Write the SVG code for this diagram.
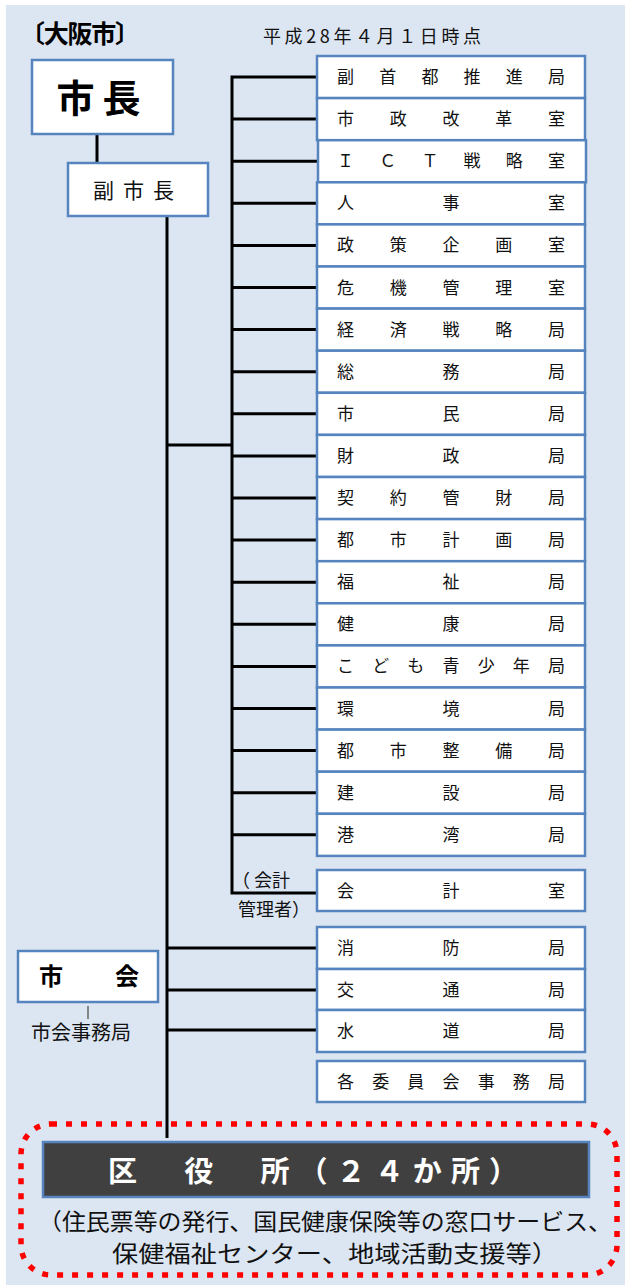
<svg xmlns="http://www.w3.org/2000/svg" width="625" height="1285" viewBox="0 0 625 1285">
<style>
.bx{fill:#fff;stroke:#5584BE;stroke-width:2.5}
.t{font-family:"Noto Sans CJK JP","Noto Sans",sans-serif;font-size:17px;fill:#111}
.ln{stroke:#000;stroke-width:3;fill:none}
</style>
<rect x="6" y="5" width="619" height="1280" fill="#DCE6F2"/>
<text x="20" y="43" font-family="'Noto Sans CJK JP',sans-serif" font-size="25" font-weight="bold" fill="#000" textLength="120" lengthAdjust="spacing">〔大阪市〕</text>
<text x="263" y="43" class="t" style="font-size:18px" textLength="218" lengthAdjust="spacing">平成28年４月１日時点</text>
<g id="connectors">
<path class="ln" d="M97 134V163"/>
<path class="ln" d="M167 216V1138"/>
<path class="ln" d="M167 445H232"/>
<path class="ln" d="M317 77H232V893H317"/>
<path class="ln" d="M232 119.1H317M232 161.2H317M232 203.3H317M232 245.4H317M232 287.5H317M232 329.6H317M232 371.7H317M232 413.8H317M232 455.9H317M232 498H317M232 540.1H317M232 582.2H317M232 624.3H317M232 666.4H317M232 708.5H317M232 750.6H317M232 792.7H317M232 834.8H317"/>
<path class="ln" d="M167 948H317M167 990H317M167 1030H317"/>
<path d="M88 1006V1019" stroke="#666" stroke-width="1.5"/>
</g>
<g id="mayor"><rect class="bx" x="32" y="60" width="141" height="74"/><text x="102.5" y="112" text-anchor="middle" font-family="'Noto Sans CJK JP',sans-serif" font-size="38" font-weight="bold" letter-spacing="8">市長</text></g>
<g id="vice-mayor"><rect class="bx" x="68" y="163" width="140" height="53"/><text x="138" y="198" text-anchor="middle" class="t" style="font-size:21px" letter-spacing="9">副市長</text></g>
<g id="b1"><rect class="bx" x="317" y="56" width="268" height="42.1"/><text class="t" x="337" y="83" textLength="228" lengthAdjust="spacing">副首都推進局</text></g>
<g id="b2"><rect class="bx" x="317" y="98.1" width="268" height="42.1"/><text class="t" x="337" y="125.1" textLength="228" lengthAdjust="spacing">市政改革室</text></g>
<g id="b3"><rect class="bx" x="318" y="140.2" width="268" height="42.1"/><text class="t" x="337" y="167.2" textLength="228" lengthAdjust="spacing">ＩＣＴ戦略室</text></g>
<g id="b4"><rect class="bx" x="317" y="182.3" width="268" height="42.1"/><text class="t" x="337" y="209.3" textLength="228" lengthAdjust="spacing">人事室</text></g>
<g id="b5"><rect class="bx" x="317" y="224.4" width="268" height="42.1"/><text class="t" x="337" y="251.4" textLength="228" lengthAdjust="spacing">政策企画室</text></g>
<g id="b6"><rect class="bx" x="317" y="266.5" width="268" height="42.1"/><text class="t" x="337" y="293.5" textLength="228" lengthAdjust="spacing">危機管理室</text></g>
<g id="b7"><rect class="bx" x="317" y="308.6" width="268" height="42.1"/><text class="t" x="337" y="335.6" textLength="228" lengthAdjust="spacing">経済戦略局</text></g>
<g id="b8"><rect class="bx" x="317" y="350.7" width="268" height="42.1"/><text class="t" x="337" y="377.7" textLength="228" lengthAdjust="spacing">総務局</text></g>
<g id="b9"><rect class="bx" x="317" y="392.8" width="268" height="42.1"/><text class="t" x="337" y="419.8" textLength="228" lengthAdjust="spacing">市民局</text></g>
<g id="b10"><rect class="bx" x="317" y="434.9" width="268" height="42.1"/><text class="t" x="337" y="461.9" textLength="228" lengthAdjust="spacing">財政局</text></g>
<g id="b11"><rect class="bx" x="317" y="477" width="268" height="42.1"/><text class="t" x="337" y="504" textLength="228" lengthAdjust="spacing">契約管財局</text></g>
<g id="b12"><rect class="bx" x="317" y="519.1" width="268" height="42.1"/><text class="t" x="337" y="546.1" textLength="228" lengthAdjust="spacing">都市計画局</text></g>
<g id="b13"><rect class="bx" x="317" y="561.2" width="268" height="42.1"/><text class="t" x="337" y="588.2" textLength="228" lengthAdjust="spacing">福祉局</text></g>
<g id="b14"><rect class="bx" x="317" y="603.3" width="268" height="42.1"/><text class="t" x="337" y="630.3" textLength="228" lengthAdjust="spacing">健康局</text></g>
<g id="b15"><rect class="bx" x="317" y="645.4" width="268" height="42.1"/><text class="t" x="337" y="672.4" textLength="228" lengthAdjust="spacing">こども青少年局</text></g>
<g id="b16"><rect class="bx" x="317" y="687.5" width="268" height="42.1"/><text class="t" x="337" y="714.5" textLength="228" lengthAdjust="spacing">環境局</text></g>
<g id="b17"><rect class="bx" x="317" y="729.6" width="268" height="42.1"/><text class="t" x="337" y="756.6" textLength="228" lengthAdjust="spacing">都市整備局</text></g>
<g id="b18"><rect class="bx" x="317" y="771.7" width="268" height="42.1"/><text class="t" x="337" y="798.7" textLength="228" lengthAdjust="spacing">建設局</text></g>
<g id="b19"><rect class="bx" x="317" y="813.8" width="268" height="42.1"/><text class="t" x="337" y="840.8" textLength="228" lengthAdjust="spacing">港湾局</text></g>
<g id="accounting"><rect class="bx" x="317" y="870" width="268" height="41"/><text class="t" x="337" y="897" textLength="228" lengthAdjust="spacing">会計室</text></g>
<g id="accounting-label"><text class="t" x="232" y="887" style="font-size:18px">（ 会計</text><text class="t" x="238" y="916" style="font-size:18px">管理者）</text></g>
<g id="fire"><rect class="bx" x="317" y="927" width="268" height="42"/><text class="t" x="337" y="954" textLength="228" lengthAdjust="spacing">消防局</text></g>
<g id="transport"><rect class="bx" x="317" y="969" width="268" height="41"/><text class="t" x="337" y="996" textLength="228" lengthAdjust="spacing">交通局</text></g>
<g id="water"><rect class="bx" x="317" y="1010" width="268" height="42"/><text class="t" x="337" y="1037" textLength="228" lengthAdjust="spacing">水道局</text></g>
<g id="committees"><rect class="bx" x="317" y="1061" width="268" height="41"/><text class="t" x="337" y="1088" textLength="228" lengthAdjust="spacing">各委員会事務局</text></g>
<g id="council"><rect class="bx" x="18" y="951" width="140" height="51"/><text x="39" y="985" font-family="'Noto Sans CJK JP',sans-serif" font-size="24" font-weight="bold" textLength="100" lengthAdjust="spacing">市会</text><text class="t" x="31" y="1040" style="font-size:20px">市会事務局</text></g>
<g id="wards">
<rect x="21" y="1124" width="596" height="151" rx="30" fill="none" stroke="#FF0000" stroke-width="5.5" stroke-dasharray="6 9"/>
<rect x="43" y="1142" width="546" height="55" fill="#404040" stroke="#5584BE" stroke-width="2.5"/>
<text x="108" y="1182" font-family="'Noto Sans CJK JP',sans-serif" font-size="29" font-weight="bold" fill="#fff" textLength="410" lengthAdjust="spacing">区　役　所（２４か所）</text>
<text x="38" y="1230" class="t" style="font-size:23px" textLength="574" lengthAdjust="spacingAndGlyphs">（住民票等の発行、国民健康保険等の窓口サービス、</text>
<text x="112" y="1262" class="t" style="font-size:23px" textLength="446" lengthAdjust="spacingAndGlyphs">保健福祉センター、地域活動支援等）</text>
</g>
</svg>
